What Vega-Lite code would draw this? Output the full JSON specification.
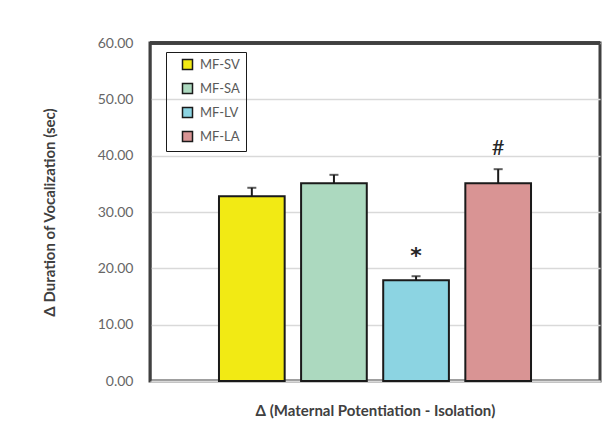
{
  "$schema": "https://vega.github.io/schema/vega-lite/v6.json",
  "autosize": {"type": "none"},
  "padding": {"left": 150, "top": 43, "right": 5, "bottom": 57},
  "width": 450,
  "height": 338,
  "background": "white",
  "config": {
    "font": "Lato",
    "view": {"stroke": "#404040", "strokeWidth": 3}
  },
  "data": {
    "values": [
      {"group": "MF-SV", "value": 32.8, "hi": 34.3, "note": ""},
      {"group": "MF-SA", "value": 35.1, "hi": 36.6, "note": ""},
      {"group": "MF-LV", "value": 17.9, "hi": 18.6, "note": "*"},
      {"group": "MF-LA", "value": 35.1, "hi": 37.6, "note": "#"}
    ]
  },
  "layer": [
    {
      "mark": {"type": "bar", "stroke": "#1a1a1a", "strokeWidth": 2},
      "encoding": {
        "x": {
          "field": "group",
          "type": "nominal",
          "sort": ["MF-SV", "MF-SA", "MF-LV", "MF-LA"],
          "scale": {"paddingInner": 0.2, "paddingOuter": 0.84},
          "axis": {
            "title": "Δ (Maternal Potentiation - Isolation)",
            "labels": false,
            "ticks": false,
            "domainColor": "#d9d9d9",
            "domainWidth": 2,
            "titleFont": "Lato",
            "titleFontSize": 15,
            "titleFontWeight": "bold",
            "titleColor": "#404040",
            "titlePadding": 22
          }
        },
        "y": {
          "field": "value",
          "type": "quantitative",
          "scale": {"domain": [0, 60]},
          "axis": {
            "title": "Δ Duration of Vocalization (sec)",
            "format": ".2f",
            "values": [0, 10, 20, 30, 40, 50, 60],
            "ticks": false,
            "labelFont": "Lato",
            "labelFontSize": 14,
            "labelColor": "#666666",
            "labelPadding": 17,
            "domainColor": "#404040",
            "domainWidth": 2,
            "gridColor": "#d9d9d9",
            "gridWidth": 1.5,
            "titleFont": "Lato",
            "titleFontSize": 15,
            "titleFontWeight": "bold",
            "titleColor": "#404040",
            "titlePadding": 40
          }
        },
        "color": {
          "field": "group",
          "type": "nominal",
          "sort": ["MF-SV", "MF-SA", "MF-LV", "MF-LA"],
          "scale": {
            "domain": ["MF-SV", "MF-SA", "MF-LV", "MF-LA"],
            "range": ["#f2ea14", "#acd9bf", "#8cd4e2", "#d99494"]
          },
          "legend": {
            "title": null,
            "orient": "none",
            "legendX": 16,
            "legendY": 9,
            "strokeColor": "#1a1a1a",
            "padding": 6,
            "symbolType": "square",
            "symbolSize": 100,
            "symbolStrokeColor": "#1a1a1a",
            "symbolStrokeWidth": 1.5,
            "symbolOffset": 9,
            "labelOffset": 6,
            "labelFont": "Lato",
            "labelFontSize": 13,
            "labelColor": "#595959",
            "rowPadding": 7
          }
        }
      }
    },
    {
      "mark": {"type": "rule", "color": "#404040", "strokeWidth": 3},
      "encoding": {
        "y": {"datum": 60, "type": "quantitative"}
      }
    },
    {
      "mark": {"type": "rule", "color": "#1a1a1a", "strokeWidth": 2},
      "encoding": {
        "x": {"field": "group", "type": "nominal", "sort": ["MF-SV", "MF-SA", "MF-LV", "MF-LA"]},
        "y": {"field": "value", "type": "quantitative"},
        "y2": {"field": "hi"}
      }
    },
    {
      "mark": {"type": "tick", "color": "#1a1a1a", "thickness": 2, "size": 9},
      "encoding": {
        "x": {"field": "group", "type": "nominal", "sort": ["MF-SV", "MF-SA", "MF-LV", "MF-LA"]},
        "y": {"field": "hi", "type": "quantitative"}
      }
    },
    {
      "transform": [{"filter": "datum.note == '*'"}],
      "mark": {"type": "text", "fontSize": 22, "fontWeight": "bold", "color": "#262626", "baseline": "alphabetic", "dy": -13, "font": "DejaVu Sans"},
      "encoding": {
        "x": {"field": "group", "type": "nominal", "sort": ["MF-SV", "MF-SA", "MF-LV", "MF-LA"]},
        "y": {"field": "hi", "type": "quantitative"},
        "text": {"field": "note"}
      }
    },
    {
      "transform": [{"filter": "datum.note == '#'"}],
      "mark": {"type": "text", "fontSize": 22, "color": "#262626", "baseline": "alphabetic", "dy": -14, "font": "Lato"},
      "encoding": {
        "x": {"field": "group", "type": "nominal", "sort": ["MF-SV", "MF-SA", "MF-LV", "MF-LA"]},
        "y": {"field": "hi", "type": "quantitative"},
        "text": {"field": "note"}
      }
    }
  ]
}
